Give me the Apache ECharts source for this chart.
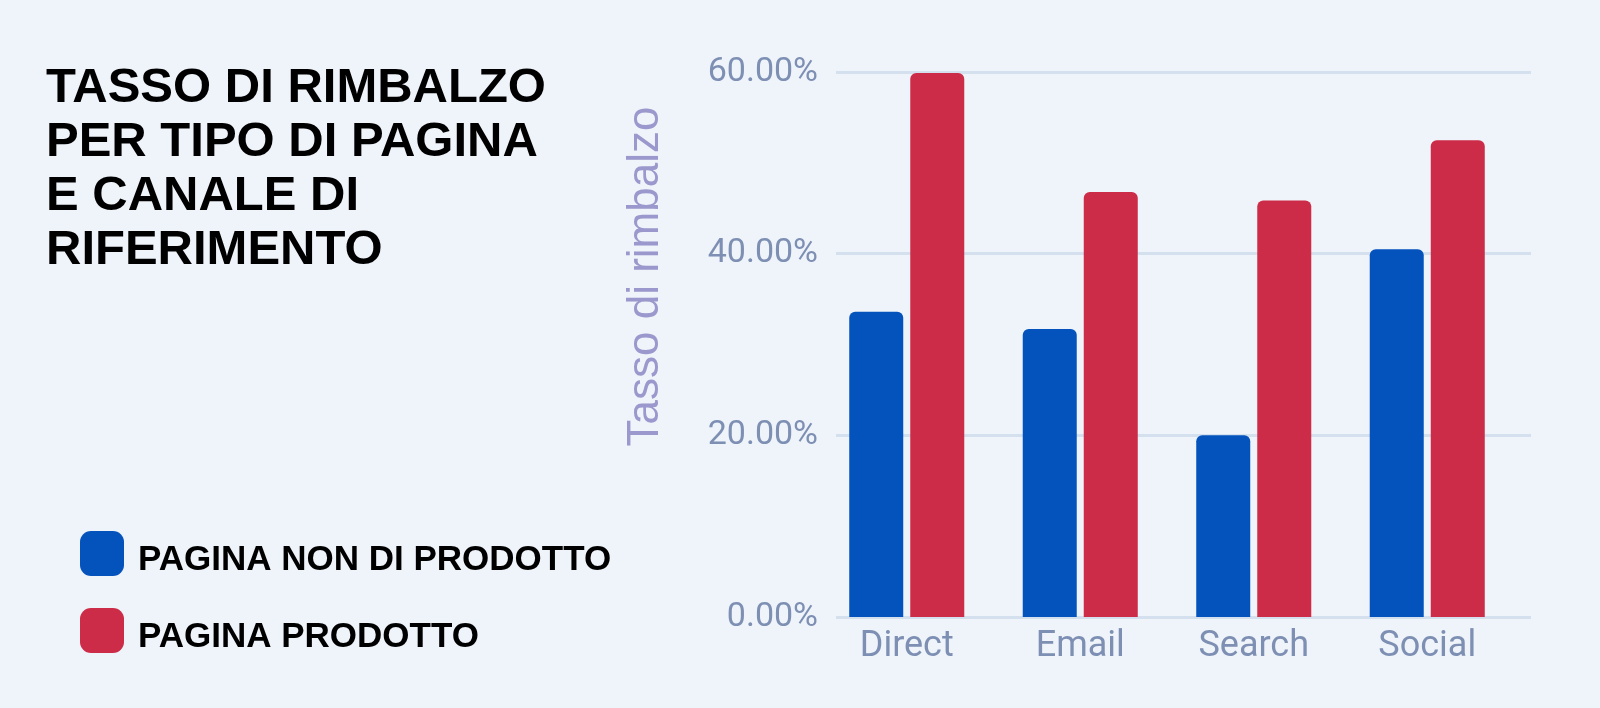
<!DOCTYPE html>
<html>
<head>
<meta charset="utf-8">
<script src="https://cdn.jsdelivr.net/npm/echarts@6/dist/echarts.min.js"></script>
<style>
html,body{margin:0;padding:0;background:#eff3fa;}
#chart{width:1600px;height:708px;}
</style>
</head>
<body>
<div id="chart"></div>
<script>
const categories = ['Direct', 'Email', 'Search', 'Social'];
const nonProdotto = [33.6, 31.7, 20.0, 40.5];
const prodotto = [59.9, 46.8, 45.85, 52.5];
const seriesNames = ['PAGINA NON DI PRODOTTO', 'PAGINA PRODOTTO'];
const titleText = 'TASSO DI RIMBALZO\nPER TIPO DI PAGINA\nE CANALE DI\nRIFERIMENTO';
const yAxisName = 'Tasso di rimbalzo';

const chart = echarts.init(document.getElementById('chart'));
const pct = v => v.toFixed(2) + '%';
chart.setOption({
  backgroundColor: '#eff3fa',
  animation: false,
  title: {
    text: titleText,
    left: 41,
    top: 56,
    textStyle: {
      fontFamily: 'Liberation Sans',
      fontWeight: 'bold',
      fontSize: 49,
      lineHeight: 54,
      color: '#000'
    }
  },
  legend: {
    orient: 'vertical',
    left: 75,
    top: 526,
    itemWidth: 44,
    itemHeight: 45,
    itemGap: 30,
    icon: 'roundRect',
    formatter: name => '{n|' + name + '}',
    textStyle: {
      fontFamily: 'Liberation Sans',
      fontWeight: 'bold',
      fontSize: 35,
      color: '#000',
      padding: [0, 0, 0, 9],
      rich: {
        n: {
          fontFamily: 'Liberation Sans',
          fontWeight: 'bold',
          fontSize: 35,
          color: '#000',
          padding: [14, 0, 0, 0]
        }
      }
    },
    data: seriesNames
  },
  grid: [
    { left: 820, right: 86, top: 72, bottom: 91 },
    { left: 836, right: 69, top: 72, bottom: 91 }
  ],
  xAxis: [
    {
      type: 'category',
      gridIndex: 0,
      data: categories,
      axisLine: { show: false },
      axisTick: { show: false },
      axisLabel: {
        margin: 12,
        fontFamily: 'Roboto',
        fontSize: 36,
        color: '#7d8fb3'
      }
    },
    {
      type: 'value',
      gridIndex: 1,
      show: false,
      min: 0, max: 1
    }
  ],
  yAxis: [
    {
      type: 'value',
      gridIndex: 0,
      min: 0, max: 60, interval: 20,
      show: false,
      splitLine: { show: false }
    },
    {
      type: 'value',
      gridIndex: 1,
      min: 0, max: 60, interval: 20,
      name: yAxisName,
      nameLocation: 'middle',
      nameGap: 168,
      nameTextStyle: {
        fontFamily: 'Liberation Sans',
        fontSize: 44,
        color: '#9a98cc',
        padding: [0, 0, 0, 136]
      },
      axisLine: { show: false },
      axisTick: { show: false },
      axisLabel: {
        margin: 18,
        fontFamily: 'Roboto',
        fontSize: 34,
        color: '#7d8fb3',
        formatter: v => pct(v)
      },
      splitLine: { lineStyle: { color: '#d4e0ee', width: 3 } }
    }
  ],
  series: [
    {
      name: seriesNames[0],
      type: 'bar',
      xAxisIndex: 0, yAxisIndex: 0,
      data: nonProdotto,
      barWidth: 54,
      barGap: '13%',
      itemStyle: { color: '#0453bd', borderRadius: [6, 6, 0, 0] }
    },
    {
      name: seriesNames[1],
      type: 'bar',
      xAxisIndex: 0, yAxisIndex: 0,
      data: prodotto,
      barWidth: 54,
      barGap: '13%',
      itemStyle: { color: '#cc2c47', borderRadius: [6, 6, 0, 0] }
    }
  ]
});
</script>
</body>
</html>
